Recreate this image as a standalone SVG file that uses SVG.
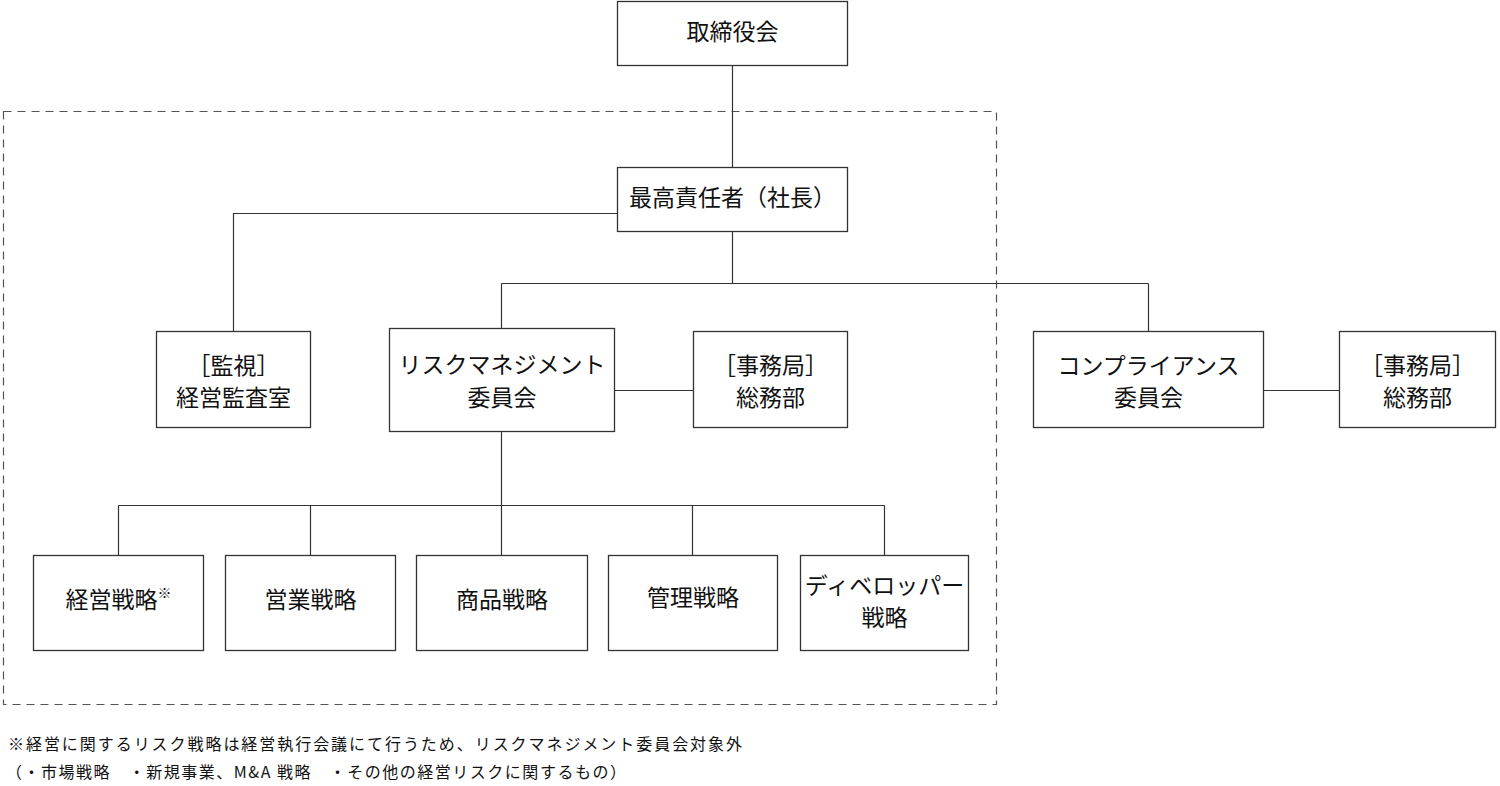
<svg xmlns="http://www.w3.org/2000/svg" width="1500" height="786" viewBox="0 0 1500 786">
<style>
.box{fill:#fff;stroke:#333;stroke-width:1.3}
.ln{fill:none;stroke:#333;stroke-width:1.2}
.dash{fill:none;stroke:#555;stroke-width:1.2;stroke-dasharray:8 6}
.t{font-family:"Noto Sans CJK JP","Noto Sans",sans-serif;font-size:23px;fill:#111;text-anchor:middle;dominant-baseline:central}
.note{font-family:"Noto Sans CJK JP","Noto Sans",sans-serif;font-size:16px;fill:#111}
</style>
<rect class="dash" x="3.5" y="111.5" width="993" height="593"/>
<g id="connectors">
<path class="ln" d="M732.5 65V168"/>
<path class="ln" d="M617 213.5H233.5V332"/>
<path class="ln" d="M732.5 231V283.5M501.5 283.5H1148.5M501.5 283.5V328M1148.5 283.5V332"/>
<path class="ln" d="M614 390.5H693"/>
<path class="ln" d="M1263 390.5H1339"/>
<path class="ln" d="M501.5 431V505.5M118.5 505.5H884.5M118.5 505.5V555M310.5 505.5V555M501.5 505.5V555M692.5 505.5V555M884.5 505.5V555"/>
</g>
<g id="board"><rect class="box" x="617.5" y="1.5" width="230" height="64"/><text class="t" x="732.5" y="30">取締役会</text></g>
<g id="ceo"><rect class="box" x="617.5" y="167.5" width="230" height="64"/><text class="t" x="732.5" y="196">最高責任者（社長）</text></g>
<g id="audit"><rect class="box" x="156.5" y="331.5" width="154" height="96"/><text class="t" x="233.5" y="364">［監視］</text><text class="t" x="233.5" y="396">経営監査室</text></g>
<g id="risk"><rect class="box" x="389.5" y="328.5" width="225" height="103"/><text class="t" x="502" y="363">リスクマネジメント</text><text class="t" x="502" y="396">委員会</text></g>
<g id="risk-office"><rect class="box" x="693.5" y="331.5" width="154" height="96"/><text class="t" x="770.5" y="364">［事務局］</text><text class="t" x="770.5" y="396">総務部</text></g>
<g id="compliance"><rect class="box" x="1033.5" y="331.5" width="230" height="96"/><text class="t" x="1148.5" y="364">コンプライアンス</text><text class="t" x="1148.5" y="396">委員会</text></g>
<g id="comp-office"><rect class="box" x="1339.5" y="331.5" width="156" height="96"/><text class="t" x="1417.5" y="364">［事務局］</text><text class="t" x="1417.5" y="396">総務部</text></g>
<g id="s1"><rect class="box" x="33.5" y="555.5" width="170" height="95"/><text class="t" x="118.5" y="598">経営戦略<tspan font-size="14" dy="-6">※</tspan></text></g>
<g id="s2"><rect class="box" x="225.5" y="555.5" width="170" height="95"/><text class="t" x="310.5" y="598">営業戦略</text></g>
<g id="s3"><rect class="box" x="416.5" y="555.5" width="171" height="95"/><text class="t" x="502" y="598">商品戦略</text></g>
<g id="s4"><rect class="box" x="608.5" y="555.5" width="169" height="95"/><text class="t" x="693" y="596">管理戦略</text></g>
<g id="s5"><rect class="box" x="800.5" y="555.5" width="168" height="95"/><text class="t" x="884.5" y="584">ディベロッパー</text><text class="t" x="884.5" y="616">戦略</text></g>
<g id="notes">
<text class="note" x="8" y="750" textLength="734" lengthAdjust="spacing">※経営に関するリスク戦略は経営執行会議にて行うため、リスクマネジメント委員会対象外</text>
<text class="note" x="6" y="778" textLength="620" lengthAdjust="spacing">（・市場戦略　・新規事業、M&amp;A 戦略　・その他の経営リスクに関するもの）</text>
</g>
</svg>
